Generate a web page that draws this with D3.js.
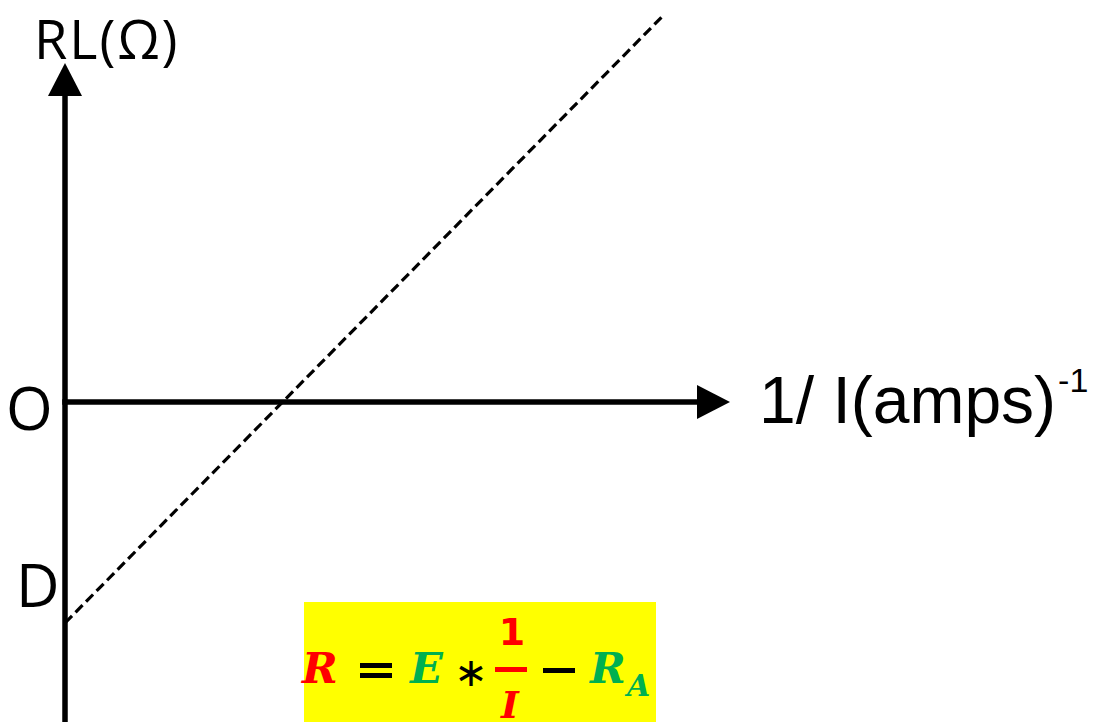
<!DOCTYPE html>
<html>
<head>
<meta charset="utf-8">
<script src="https://cdn.jsdelivr.net/npm/d3@7"></script>
<style>
  html, body { margin: 0; padding: 0; background: #fff; }
  svg { display: block; }
</style>
</head>
<body>
<svg id="chart" width="1110" height="722"></svg>
<script>
// Straight-line relation between load resistance and reciprocal current
const invCurrent = [0, 9];        // 1/I (amps)^-1
const resistance = [-1, 1.75];    // RL (ohm), starts at the intercept D
const axisLabels = { y: "RL(Ω)", x: "1/ I(amps)", xSup: "-1" };
const pointLabels = ["O", "D"];

const svg = d3.select("#chart");
const W = 1110, H = 722;

// Scales: origin O sits where both axes meet
const x = d3.scaleLinear().domain([0, 10]).range([65, 730]);
const y = d3.scaleLinear().domain([0, 1]).range([402, 181]);

const axisW = 5.5;

// vertical axis
svg.append("line")
  .attr("x1", x(0)).attr("x2", x(0))
  .attr("y1", H).attr("y2", 92)
  .attr("stroke", "#000").attr("stroke-width", axisW);
svg.append("path")
  .attr("d", `M${x(0)},63 L${x(0) - 17},96 L${x(0) + 17},96 Z`)
  .attr("fill", "#000");

// horizontal axis
svg.append("line")
  .attr("x1", x(0) - axisW / 2).attr("x2", 700)
  .attr("y1", y(0)).attr("y2", y(0))
  .attr("stroke", "#000").attr("stroke-width", axisW);
svg.append("path")
  .attr("d", `M730,${y(0)} L697,${y(0) - 17} L697,${y(0) + 17} Z`)
  .attr("fill", "#000");

// dashed fitted line
const pts = invCurrent.map((v, i) => [v, resistance[i]]);
svg.append("path")
  .datum(pts)
  .attr("d", d3.line().x(d => x(d[0])).y(d => y(d[1])))
  .attr("fill", "none")
  .attr("stroke", "#000")
  .attr("stroke-width", 3.2)
  .attr("stroke-dasharray", "10,5");

// axis titles
const sans = "'Open Sans', 'Noto Sans', sans-serif";
svg.append("text")
  .attr("x", 34).attr("y", 59)
  .attr("font-family", sans).attr("font-size", 54)
  .attr("letter-spacing", 2)
  .attr("fill", "#000")
  .text(axisLabels.y);

const xt = svg.append("text")
  .attr("x", 759).attr("y", 423)
  .attr("font-family", "'Liberation Sans', Arial, sans-serif")
  .attr("font-size", 66).attr("fill", "#000");
xt.append("tspan").text(axisLabels.x);
xt.append("tspan").attr("font-size", 34).attr("dy", -31).attr("dx", 2).text(axisLabels.xSup);

// point labels
svg.append("text")
  .attr("x", 6).attr("y", 430)
  .attr("font-family", sans).attr("font-size", 60).attr("fill", "#000")
  .text(pointLabels[0]);
svg.append("text")
  .attr("x", 16).attr("y", 607)
  .attr("font-family", sans).attr("font-size", 60).attr("fill", "#000")
  .text(pointLabels[1]);

// equation box
const red = "#FF0000", green = "#00B050";
svg.append("rect")
  .attr("x", 304).attr("y", 602).attr("width", 352).attr("height", 120)
  .attr("fill", "#FFFF00");

const serif = "'DejaVu Serif', 'Liberation Serif', serif";
function glyph(txt, gx, gy, size, color, opts = {}) {
  return svg.append("text")
    .attr("x", gx).attr("y", gy)
    .attr("font-family", opts.family || serif)
    .attr("font-size", size)
    .attr("font-weight", opts.weight || "bold")
    .attr("font-style", opts.style || "italic")
    .attr("text-anchor", opts.anchor || "start")
    .attr("fill", color)
    .text(txt);
}
glyph("R", 302, 683, 43, red);
// equals sign
svg.append("rect").attr("x", 360).attr("y", 663).attr("width", 32).attr("height", 5).attr("fill", "#000");
svg.append("rect").attr("x", 360).attr("y", 673).attr("width", 32).attr("height", 5).attr("fill", "#000");
glyph("E", 410, 683, 43, green);
glyph("∗", 471, 686, 40, "#000", { style: "normal", weight: "normal", anchor: "middle", family: "'DejaVu Sans', sans-serif" });
glyph("1", 512, 645, 38, red, { style: "normal", anchor: "middle", family: "'DejaVu Sans', sans-serif" });
svg.append("rect").attr("x", 495).attr("y", 667).attr("width", 32).attr("height", 5).attr("fill", red);
glyph("I", 510, 718, 38, red, { anchor: "middle" });
svg.append("rect").attr("x", 543).attr("y", 668).attr("width", 32).attr("height", 5).attr("fill", "#000");
glyph("R", 590, 683, 43, green);
glyph("A", 627, 696, 30, green);
</script>
</body>
</html>
